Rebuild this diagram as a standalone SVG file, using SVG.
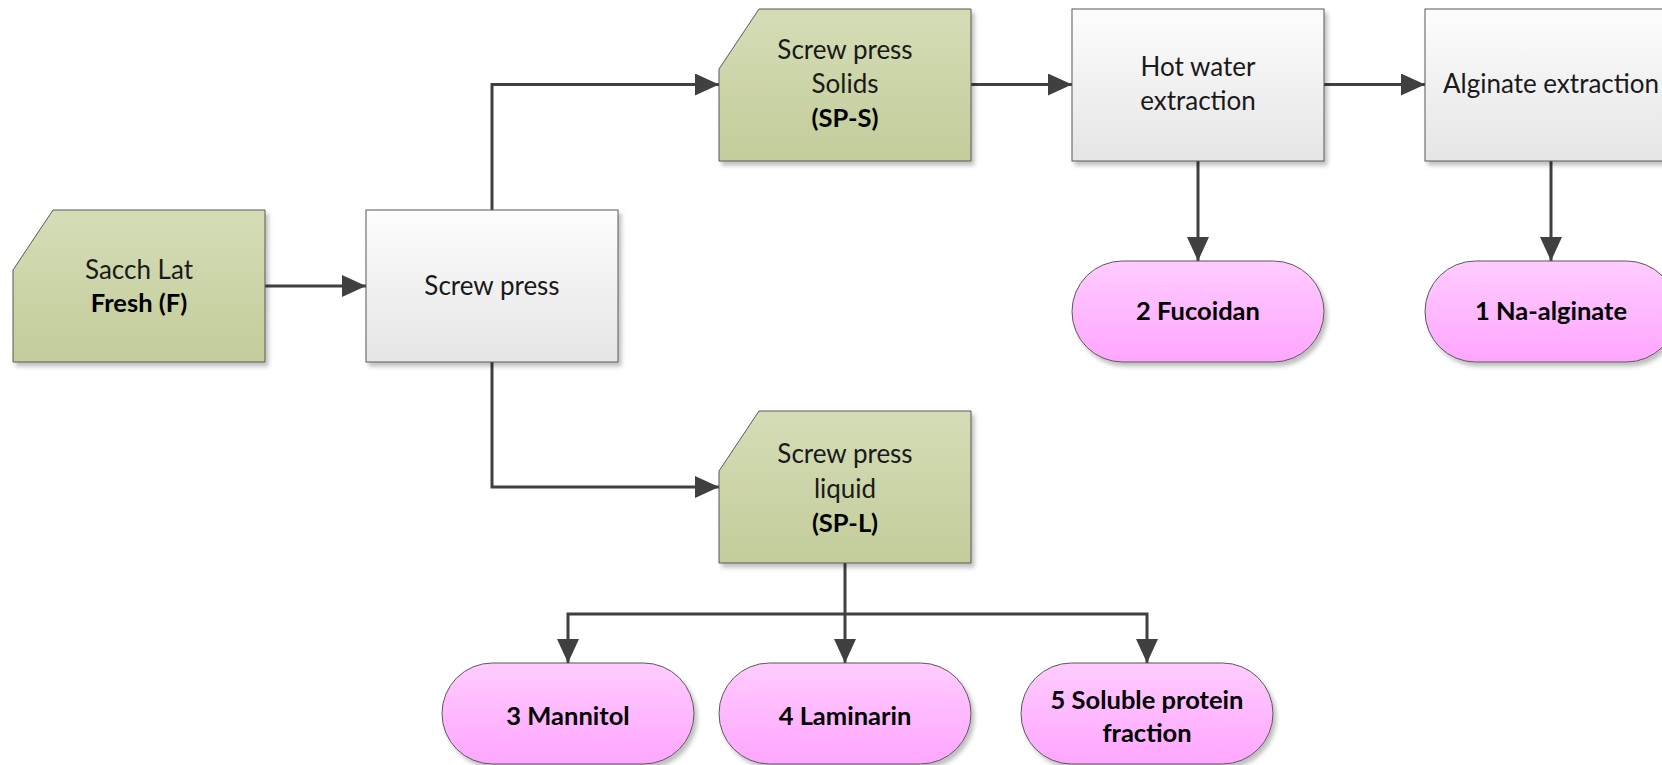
<svg xmlns="http://www.w3.org/2000/svg" width="1662" height="765" viewBox="0 0 1662 765">
<defs>
<linearGradient id="gGreen" x1="0" y1="0" x2="0" y2="1"><stop offset="0" stop-color="#d5ddb7"/><stop offset="1" stop-color="#c3cc9a"/></linearGradient>
<linearGradient id="gGray" x1="0" y1="0" x2="0" y2="1"><stop offset="0" stop-color="#fdfdfd"/><stop offset="1" stop-color="#e5e5e5"/></linearGradient>
<linearGradient id="gPink" x1="0" y1="0" x2="0" y2="1"><stop offset="0" stop-color="#ffccff"/><stop offset="1" stop-color="#ffa6ff"/></linearGradient>
<filter id="sh" x="-10%" y="-10%" width="130%" height="130%"><feDropShadow dx="3" dy="4" stdDeviation="2" flood-color="#000" flood-opacity="0.25"/></filter>
<marker id="arr" markerUnits="userSpaceOnUse" markerWidth="24" markerHeight="22" refX="24" refY="11" orient="auto"><path d="M0,0 L24,11 L0,22 Z" fill="#404040"/></marker>
<style>
.data{fill:url(#gGreen);stroke:#595959;stroke-width:1;filter:url(#sh)}
.proc{fill:url(#gGray);stroke:#595959;stroke-width:1;filter:url(#sh)}
.term{fill:url(#gPink);stroke:#595959;stroke-width:1;filter:url(#sh)}
.t{font-family:Lato,"Liberation Sans",sans-serif;font-size:26px;fill:#1a1a1a;text-anchor:middle}
.b{font-weight:bold;fill:#000;font-size:25.5px}
.c{fill:none;stroke:#404040;stroke-width:3;marker-end:url(#arr)}
</style>
</defs>
<g id="connectors">
<path class="c" d="M265,286 H366"/>
<path class="c" d="M492,210 V84.5 H719"/>
<path class="c" d="M492,362 V487 H719"/>
<path class="c" d="M971,84.5 H1072"/>
<path class="c" d="M1324,84.5 H1425"/>
<path class="c" d="M1198,161 V261"/>
<path class="c" d="M1551,161 V261"/>
<path class="c" d="M845,563 V663"/>
<path class="c" d="M845,614 H568 V663"/>
<path class="c" d="M845,614 H1147 V663"/>
</g>
<g id="sacch">
<path class="data" d="M13,270 L53,210 H265 V362 H13 Z"/>
<text class="t" x="139" y="279">Sacch Lat</text>
<text class="t b" x="139" y="312">Fresh (F)</text>
</g>
<g id="screwpress">
<rect class="proc" x="366" y="210" width="252" height="152"/>
<text class="t" x="492" y="295">Screw press</text>
</g>
<g id="sps">
<path class="data" d="M719,69 L759,9 H971 V161 H719 Z"/>
<text class="t" x="845" y="59">Screw press</text>
<text class="t" x="845" y="93">Solids</text>
<text class="t b" x="845" y="127">(SP-S)</text>
</g>
<g id="hotwater">
<rect class="proc" x="1072" y="9" width="252" height="152"/>
<text class="t" x="1198" y="76">Hot water</text>
<text class="t" x="1198" y="110">extraction</text>
</g>
<g id="alginate">
<rect class="proc" x="1425" y="9" width="252" height="152"/>
<text class="t" x="1551" y="93">Alginate extraction</text>
</g>
<g id="fucoidan">
<rect class="term" x="1072" y="261" width="252" height="101" rx="50.5"/>
<text class="t b" x="1198" y="320">2 Fucoidan</text>
</g>
<g id="naalginate">
<rect class="term" x="1425" y="261" width="252" height="101" rx="50.5"/>
<text class="t b" x="1551" y="320">1 Na-alginate</text>
</g>
<g id="spl">
<path class="data" d="M719,471 L759,411 H971 V563 H719 Z"/>
<text class="t" x="845" y="463">Screw press</text>
<text class="t" x="845" y="498">liquid</text>
<text class="t b" x="845" y="532">(SP-L)</text>
</g>
<g id="mannitol">
<rect class="term" x="442" y="663" width="252" height="101" rx="50.5"/>
<text class="t b" x="568" y="725">3 Mannitol</text>
</g>
<g id="laminarin">
<rect class="term" x="719" y="663" width="252" height="101" rx="50.5"/>
<text class="t b" x="845" y="725">4 Laminarin</text>
</g>
<g id="protein">
<rect class="term" x="1021" y="663" width="252" height="101" rx="50.5"/>
<text class="t b" x="1147" y="709">5 Soluble protein</text>
<text class="t b" x="1147" y="742">fraction</text>
</g>
</svg>
